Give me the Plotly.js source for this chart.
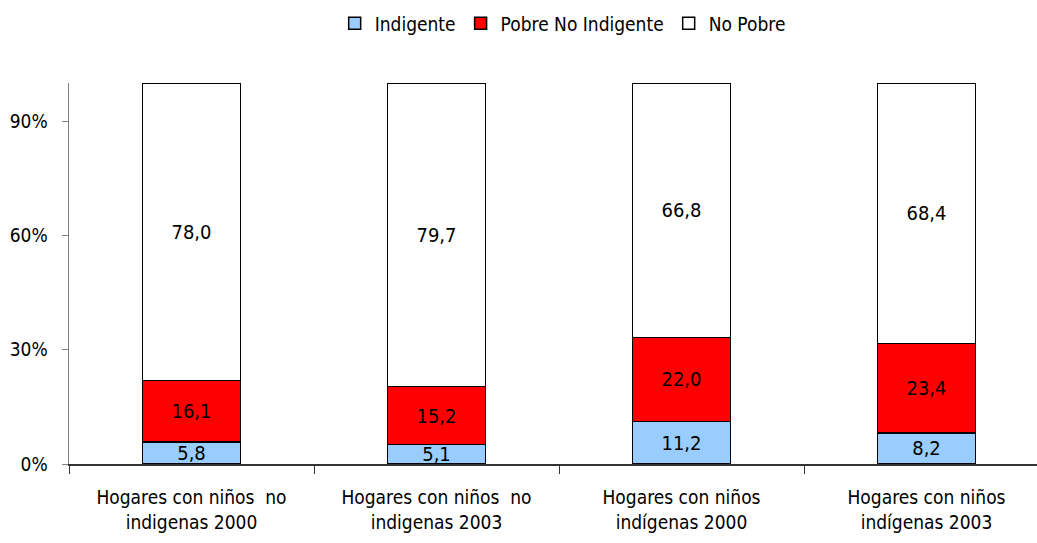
<!DOCTYPE html>
<html>
<head>
<meta charset="utf-8">
<script src="https://cdn.plot.ly/plotly-3.0.1.min.js"></script>
<style>html,body{margin:0;padding:0;background:#fff;}#chart{width:1037px;height:543px;}</style>
</head>
<body>
<div id="chart"></div>
<script>
const categories = [
  "Hogares con niños  no<br>indigenas 2000",
  "Hogares con niños  no<br>indigenas 2003",
  "Hogares con niños<br>indígenas 2000",
  "Hogares con niños<br>indígenas 2003"
];
const indigente = [5.8, 5.1, 11.2, 8.2];
const pobreNoIndigente = [16.1, 15.2, 22.0, 23.4];
const noPobre = [78.0, 79.7, 66.8, 68.4];
const yTicks = [0, 30, 60, 90];
const yTickLabels = yTicks.map(v => v + '%');

const FONT = "'DejaVu Sans Condensed', 'Liberation Sans Narrow', sans-serif";

function series(name, vals, color) {
  return {
    type: 'bar', name: name, x: categories, y: vals,
    marker: {color: color, line: {color: '#000', width: 1.5}},
    width: 0.4,
    texttemplate: '%{y:.1f}', textposition: 'inside', insidetextanchor: 'middle',
    constraintext: 'none', textangle: 0,
    textfont: {family: FONT, size: 20, color: '#000'},
    hoverinfo: 'skip'
  };
}

const data = [
  series('Indigente', indigente, '#99ccff'),
  series('Pobre No Indigente', pobreNoIndigente, '#ff0000'),
  series('No Pobre', noPobre, '#ffffff')
];

const layout = {
  width: 1037, height: 543,
  margin: {l: 69, r: 0, t: 83, b: 79},
  barmode: 'stack',
  separators: ',.',
  paper_bgcolor: '#fff', plot_bgcolor: '#fff',
  font: {family: FONT, size: 19, color: '#000'},
  showlegend: true,
  legend: {
    orientation: 'h', x: 0.51, xanchor: 'center', xref: 'paper',
    y: 0.992, yref: 'container', yanchor: 'top',
    font: {family: FONT, size: 19, color: '#000'},
    traceorder: 'normal', itemwidth: 30, tracegroupgap: 0
  },
  xaxis: {
    type: 'category', range: [-0.5, 3.451],
    showline: true, linecolor: '#333', linewidth: 1.5,
    ticks: 'outside', tickson: 'boundaries', ticklen: 8, tickcolor: '#333',
    ticklabelstandoff: 16,
    showgrid: false, zeroline: false, fixedrange: true,
    tickfont: {family: FONT, size: 19, color: '#000'}
  },
  yaxis: {
    range: [0, 100], tickmode: 'array', tickvals: yTicks, ticktext: yTickLabels,
    showline: true, linecolor: '#808080', linewidth: 1.5,
    ticks: 'outside', ticklen: 6, tickcolor: '#808080',
    ticklabelstandoff: 10,
    showgrid: false, zeroline: false, fixedrange: true,
    tickfont: {family: FONT, size: 19, color: '#000'}
  }
};

Plotly.newPlot('chart', data, layout, {staticPlot: true, displayModeBar: false});
</script>
</body>
</html>
